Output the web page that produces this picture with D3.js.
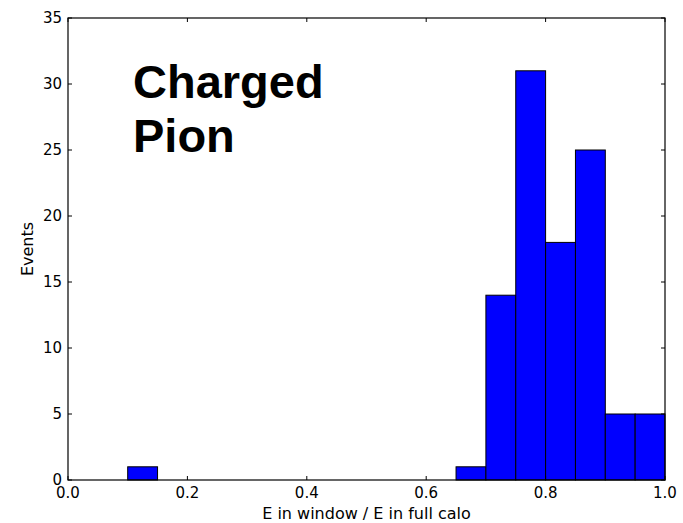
<!DOCTYPE html>
<html>
<head>
<meta charset="utf-8">
<script src="https://cdn.jsdelivr.net/npm/d3@7"></script>
<style>
  body { margin: 0; background: #fff; }
  text { font-family: "DejaVu Sans", sans-serif; }
</style>
</head>
<body>
<script>
// histogram bins (lower edge, width 0.05) and counts
var binStart = [0.10, 0.65, 0.70, 0.75, 0.80, 0.85, 0.90, 0.95];
var counts   = [1, 1, 14, 31, 18, 25, 5, 5];
var binWidth = 0.05;
var xTicks = [0.0, 0.2, 0.4, 0.6, 0.8, 1.0];
var yTicks = [0, 5, 10, 15, 20, 25, 30, 35];

var W = 683, H = 523;
var m = {left: 68, right: 18, top: 18, bottom: 43};

var svg = d3.select("body").append("svg")
  .attr("width", W)
  .attr("height", H);

var x = d3.scaleLinear().domain([0, 1]).range([m.left, W - m.right]);
var y = d3.scaleLinear().domain([0, 35]).range([H - m.bottom, m.top]);

var bins = binStart.map((b, i) => ({x0: b, x1: b + binWidth, n: counts[i]}));

svg.append("g").selectAll("rect")
  .data(bins)
  .enter().append("rect")
  .attr("x", d => x(d.x0))
  .attr("y", d => y(d.n))
  .attr("width", d => x(d.x1) - x(d.x0))
  .attr("height", d => y(0) - y(d.n))
  .style("fill", "#0000ff")
  .style("stroke", "#000")
  .style("stroke-width", 1);

// frame
svg.append("rect")
  .attr("x", x(0)).attr("y", y(35))
  .attr("width", x(1) - x(0)).attr("height", y(0) - y(35))
  .style("fill", "none").style("stroke", "#000").style("stroke-width", 1.2);

var tl = 4;
var ticks = svg.append("g").style("stroke", "#000").style("stroke-width", 1);
xTicks.forEach(t => {
  ticks.append("line").attr("x1", x(t)).attr("x2", x(t)).attr("y1", y(0)).attr("y2", y(0) - tl);
  ticks.append("line").attr("x1", x(t)).attr("x2", x(t)).attr("y1", y(35)).attr("y2", y(35) + tl);
});
yTicks.forEach(t => {
  ticks.append("line").attr("x1", x(0)).attr("x2", x(0) + tl).attr("y1", y(t)).attr("y2", y(t));
  ticks.append("line").attr("x1", x(1)).attr("x2", x(1) - tl).attr("y1", y(t)).attr("y2", y(t));
});

svg.append("g").selectAll("text")
  .data(xTicks)
  .enter().append("text")
  .attr("x", d => x(d))
  .attr("y", y(0) + 18)
  .attr("text-anchor", "middle")
  .style("font-size", "15px")
  .text(d => d.toFixed(1));

svg.append("g").selectAll("text")
  .data(yTicks)
  .enter().append("text")
  .attr("x", x(0) - 6)
  .attr("y", d => y(d))
  .attr("dy", "0.36em")
  .attr("text-anchor", "end")
  .style("font-size", "15px")
  .text(d => d);

svg.append("text")
  .attr("x", (x(0) + x(1)) / 2)
  .attr("y", 519)
  .attr("text-anchor", "middle")
  .style("font-size", "16px")
  .text("E in window / E in full calo");

svg.append("text")
  .attr("transform", "translate(33," + ((y(0) + y(35)) / 2) + ") rotate(-90)")
  .attr("text-anchor", "middle")
  .style("font-size", "16px")
  .text("Events");

var title = svg.append("text")
  .style("font-family", "'Liberation Sans', Arial, sans-serif")
  .style("font-weight", "bold")
  .style("font-size", "47px");
title.append("tspan").attr("x", 133).attr("y", 98).text("Charged");
title.append("tspan").attr("x", 133).attr("y", 152).text("Pion");
</script>
</body>
</html>
